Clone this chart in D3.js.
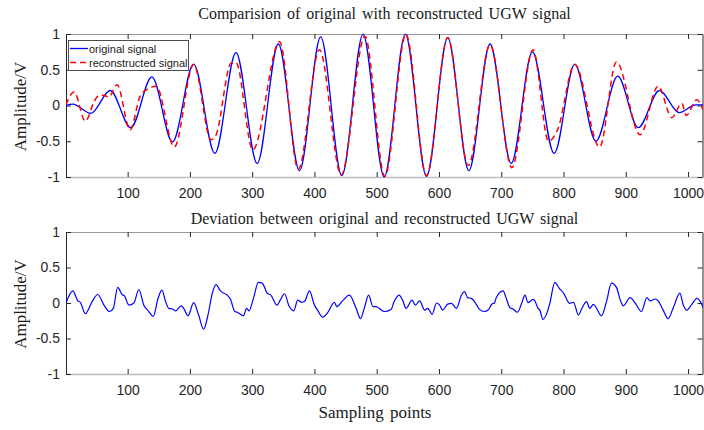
<!DOCTYPE html>
<html><head><meta charset="utf-8">
<script src="https://cdn.jsdelivr.net/npm/d3@7/dist/d3.min.js"></script>
<style>
body{margin:0;background:#fff;}
svg{display:block;}
.tick text{font-family:"Liberation Sans",Arial,sans-serif;font-size:14px;fill:#262626;}
</style></head>
<body><svg id="c" width="704" height="430"></svg>
<script>
// ---- data ----
const xTicks = [100,200,300,400,500,600,700,800,900,1000];
const yTicks = [-1,-0.5,0,0.5,1];
const yTickLabels = ["-1","-0.5","0","0.5","1"];

const originalN = [1,12,41,72,105,139,172,206,240,274,308,342,376,410,444,478,512,546,580,614,648,682,716,750,785,818,852,887,920,954,986,1012,1024];
const originalV = [0.0,0.02,-0.11,0.21,-0.31,0.40,-0.51,0.58,-0.67,0.74,-0.81,0.86,-0.91,0.96,-0.98,0.995,-1.0,0.995,-0.99,0.95,-0.91,0.86,-0.81,0.75,-0.67,0.58,-0.50,0.41,-0.31,0.21,-0.10,0.01,0.01];

const reconN = [1,14,32,46,52,60,70,83,104,120,130,146,175,206,234,242,266,274,301,344,374,408,443,481,513,547,580,614,647,682,717,751,776,790,818,858,885,923,952,974,990,997,1014,1024];
const reconV = [0.01,0.19,-0.22,0.05,0.13,0.145,0.12,0.29,-0.34,0.13,0.22,0.27,-0.58,0.575,-0.48,-0.41,0.59,0.60,-0.62,0.89,-0.89,0.78,-0.97,0.97,-0.99,0.995,-0.98,0.95,-0.84,0.85,-0.87,0.78,-0.50,-0.35,0.575,-0.58,0.61,-0.41,0.27,-0.17,0.03,-0.14,0.08,-0.06];

const devN = [1,12,20,24,32,43,52,62,71,77,84,91,95,102,110,118,126,134,141,149,155,161,166,172,177,186,190,197,206,214,222,229,236,242,249,260,265,272,276,279,286,291,295,302,310,316,324,330,340,345,352,359,367,373,380,384,392,400,405,413,421,432,436,445,456,467,474,480,487,494,499,512,523,528,536,542,547,557,562,569,577,582,589,596,601,606,614,620,628,636,641,646,652,660,665,673,679,685,689,692,703,708,714,719,726,733,738,743,751,754,759,762,767,773,778,786,793,800,810,816,824,829,837,842,848,861,869,877,885,892,896,907,915,925,934,939,947,952,960,968,976,987,992,998,1006,1014,1019,1024];
const devV = [0,0.17,0.03,0.01,-0.15,0.02,0.12,-0.03,-0.12,-0.075,0.22,0.12,0.10,-0.03,0.0,0.19,-0.03,-0.12,-0.19,0.07,0.18,0.02,-0.075,-0.085,-0.11,-0.04,-0.075,-0.18,0.005,-0.17,-0.37,-0.17,0.14,0.26,0.17,0.11,0.056,-0.12,-0.13,-0.146,-0.18,-0.075,-0.11,0.066,0.29,0.28,0.14,0.11,-0.03,0.04,0.13,-0.04,-0.11,0.04,0.01,0.02,0.17,-0.03,-0.10,-0.20,-0.14,0.01,-0.05,0.03,0.11,-0.075,-0.22,-0.075,0.11,-0.05,-0.05,-0.12,-0.09,0.02,0.11,0.03,-0.075,0.04,-0.03,0.03,-0.10,-0.075,-0.16,0.0,-0.03,-0.10,-0.015,-0.005,-0.075,0.11,0.16,0.075,0.066,-0.02,-0.09,-0.12,-0.10,-0.015,0.0,0.075,0.17,0.066,-0.066,-0.085,-0.13,0.0,0.11,0.005,0.05,0.03,-0.075,-0.10,-0.23,-0.15,-0.005,0.29,0.21,0.14,-0.005,0.01,-0.17,-0.085,0.02,-0.075,-0.02,-0.18,0.02,0.28,0.22,0.02,-0.04,0.075,0.0,-0.12,0.075,0.03,0.056,0.03,-0.10,-0.22,-0.075,0.14,-0.02,-0.10,-0.02,0.066,0.03,-0.06];

const titles = ["Comparision of original with reconstructed UGW signal","Deviation between original and reconstructed UGW signal"];
const legendLabels = ["original signal","reconstructed signal"];

// ---- drawing ----
const svg = d3.select("#c");
const L = 66, R = 703;
const x = d3.scaleLinear().domain([1,1024]).range([L,R]);
const panels = [{top:34,bottom:177},{top:232,bottom:374}];
const serif = '"Liberation Serif","Times New Roman",serif';

function drawPanel(p, idx){
  const y = d3.scaleLinear().domain([-1,1]).range([p.bottom,p.top]);
  const g = svg.append("g");
  // frame
  g.append("line").attr("x1",L).attr("x2",R).attr("y1",p.top+0.5).attr("y2",p.top+0.5).attr("stroke","#9a9a9a");
  g.append("line").attr("x1",L).attr("x2",R).attr("y1",p.bottom+0.5).attr("y2",p.bottom+0.5).attr("stroke","#bdbdbd").attr("stroke-width",1.5);
  // axes
  const ax = g.append("g").attr("transform",`translate(0,${p.bottom})`)
    .call(d3.axisBottom(x).tickValues(xTicks).tickSize(-5).tickSizeOuter(0).tickPadding(11).tickFormat(d3.format("d")));
  ax.select(".domain").remove();
  ax.selectAll(".tick line").attr("stroke","#262626");
  const axT = g.append("g").attr("transform",`translate(0,${p.top})`)
    .call(d3.axisTop(x).tickValues(xTicks).tickSize(-5).tickSizeOuter(0).tickFormat(""));
  axT.select(".domain").remove();
  axT.selectAll(".tick line").attr("stroke","#262626");
  const ay = g.append("g").attr("transform",`translate(${L},0)`)
    .call(d3.axisLeft(y).tickValues(yTicks).tickSize(-5).tickSizeOuter(0).tickPadding(6).tickFormat((d,i)=>yTickLabels[i]));
  ay.select(".domain").attr("stroke","#262626");
  ay.selectAll(".tick line").attr("stroke","#262626");
  const ar = g.append("g").attr("transform",`translate(${R-0.5},0)`)
    .call(d3.axisRight(y).tickValues(yTicks).tickSize(-5).tickSizeOuter(0).tickFormat(""));
  ar.select(".domain").attr("stroke","#262626");
  ar.selectAll(".tick line").attr("stroke","#262626");
  // title
  svg.append("text").attr("x",(L+R)/2).attr("y",idx===0?19:224).attr("text-anchor","middle")
    .attr("font-family",serif).attr("font-size",16).attr("fill","#1a1a1a").attr("word-spacing","2px").text(titles[idx]);
  // y label
  svg.append("text").attr("transform",`translate(26,${(p.top+p.bottom)/2+1}) rotate(-90)`)
    .attr("text-anchor","middle").attr("font-family",serif).attr("font-size",17).attr("fill","#1a1a1a").text("Amplitude/V");
  return y;
}

const y1 = drawPanel(panels[0],0);
const y2 = drawPanel(panels[1],1);

const clip = svg.append("defs");
clip.append("clipPath").attr("id","cp1").append("rect").attr("x",L).attr("y",panels[0].top-2).attr("width",R-L).attr("height",panels[0].bottom-panels[0].top+4);
clip.append("clipPath").attr("id","cp2").append("rect").attr("x",L).attr("y",panels[1].top).attr("width",R-L).attr("height",panels[1].bottom-panels[1].top);

const line1 = d3.line().x(d=>x(d[0])).y(d=>y1(d[1])).curve(d3.curveMonotoneX);
const line2 = d3.line().x(d=>x(d[0])).y(d=>y2(d[1])).curve(d3.curveMonotoneX);

svg.append("path").attr("clip-path","url(#cp1)").attr("d",line1(d3.zip(originalN,originalV)))
  .attr("fill","none").attr("stroke","#0000ff").attr("stroke-width",1.3);
svg.append("path").attr("clip-path","url(#cp1)").attr("d",line1(d3.zip(reconN,reconV)))
  .attr("fill","none").attr("stroke","#ff0000").attr("stroke-width",1.5).attr("stroke-dasharray","6,4");
svg.append("path").attr("clip-path","url(#cp2)").attr("d",line2(d3.zip(devN,devV)))
  .attr("fill","none").attr("stroke","#0000ff").attr("stroke-width",1.2);

// legend
const lg = svg.append("g");
lg.append("rect").attr("x",68.5).attr("y",40.5).attr("width",120).attr("height",30).attr("fill","#fff").attr("stroke","#4d4d4d").attr("stroke-width",1);
const legStyles = [{c:"#0000ff",d:null,w:1.3},{c:"#ff0000",d:"6,4",w:1.5}];
legendLabels.forEach((t,i)=>{
  const yy = 48.5 + i*14;
  lg.append("line").attr("x1",70).attr("x2",88).attr("y1",yy).attr("y2",yy)
    .attr("stroke",legStyles[i].c).attr("stroke-width",legStyles[i].w).attr("stroke-dasharray",legStyles[i].d);
  lg.append("text").attr("x",89).attr("y",yy+4).attr("font-family",'"Liberation Sans",Arial,sans-serif')
    .attr("font-size",11).attr("fill","#1a1a1a").text(t);
});

// x label
svg.append("text").attr("x",375).attr("y",418).attr("text-anchor","middle").attr("font-family",serif)
  .attr("font-size",17).attr("fill","#1a1a1a").attr("word-spacing","2px").text("Sampling points");
</script></body></html>
